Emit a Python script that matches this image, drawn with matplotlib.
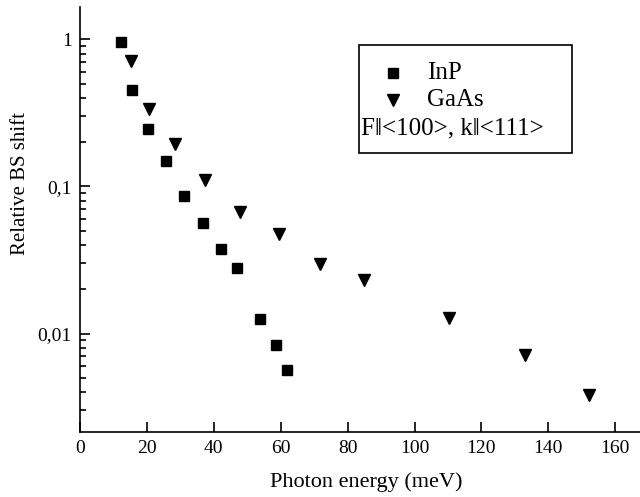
import matplotlib
matplotlib.use("Agg")
import matplotlib.pyplot as plt
from matplotlib.ticker import FixedLocator, LogLocator, NullFormatter, FuncFormatter
from matplotlib.patches import Rectangle

plt.rcParams['font.family'] = ['Liberation Serif', 'DejaVu Serif']

# photon energy (meV) and relative BS shift
inp_x = [12.3, 15.6, 20.2, 25.7, 31.2, 36.9, 42.0, 46.8, 53.7, 58.7, 61.9]
inp_y = [0.96, 0.45, 0.245, 0.148, 0.086, 0.0565, 0.0378, 0.0277, 0.0126, 0.0083, 0.00565]

gaas_x = [15.2, 20.7, 28.5, 37.5, 47.8, 59.6, 71.7, 84.8, 110.2, 133.1, 152.1]
gaas_y = [0.71, 0.335, 0.194, 0.111, 0.067, 0.0475, 0.0297, 0.023, 0.0128, 0.0072, 0.00382]

xticks = [0, 20, 40, 60, 80, 100, 120, 140, 160]
yticks = [0.01, 0.1, 1]
ylabels = {0.01: "0,01", 0.1: "0,1", 1: "1"}

fig = plt.figure(figsize=(6.4, 4.97), dpi=100)
ax = fig.add_axes([0.125, 0.1308, 0.875, 0.855])

ax.plot(inp_x, inp_y, ls='none', marker='s', ms=7.2, color='black')
ax.plot(gaas_x, gaas_y, ls='none', marker='v', ms=8.5, color='black')

ax.set_yscale('log')
ax.set_xlim(0, 167.4)
ax.set_ylim(0.00214, 1.66)

ax.xaxis.set_major_locator(FixedLocator(xticks))
ax.yaxis.set_major_locator(FixedLocator(yticks))
ax.yaxis.set_major_formatter(FuncFormatter(lambda v, p: ylabels.get(round(v, 4), "")))
ax.yaxis.set_minor_locator(LogLocator(base=10, subs=range(2, 10)))
ax.yaxis.set_minor_formatter(NullFormatter())

for s in ['top', 'right']:
    ax.spines[s].set_visible(False)
for s in ['left', 'bottom']:
    ax.spines[s].set_linewidth(1.2)

ax.tick_params(which='major', direction='in', length=7, width=1.2, labelsize=14, pad=6)
ax.tick_params(which='minor', direction='in', length=4.5, width=1.2)

ax.set_xlabel("Photon energy (meV)", fontsize=16)
ax.set_ylabel("Relative BS shift", fontsize=15)
ax.xaxis.set_label_coords(0.512, -0.094)
ax.yaxis.set_label_coords(-0.089, 0.584)

# legend box drawn by hand
fig.patches.append(Rectangle((359 / 640, 1 - 153 / 497), 213 / 640, 108 / 497,
                             transform=fig.transFigure, fill=False,
                             edgecolor='black', lw=1.2))
fig.lines.append(plt.Line2D([393 / 640], [1 - 73 / 497], transform=fig.transFigure,
                            marker='s', ms=7.2, color='black', ls='none'))
fig.lines.append(plt.Line2D([393 / 640], [1 - 100 / 497], transform=fig.transFigure,
                            marker='v', ms=8.5, color='black', ls='none'))
fig.text(427 / 640, 1 - 73 / 497, "InP", fontsize=18, va='center')
fig.text(427 / 640, 1 - 100 / 497, "GaAs", fontsize=18, va='center')
fig.text(361 / 640, 1 - 128 / 497, "F\u2016<100>, k\u2016<111>", fontsize=18, va='center')

fig.savefig("out.png", dpi=100)
